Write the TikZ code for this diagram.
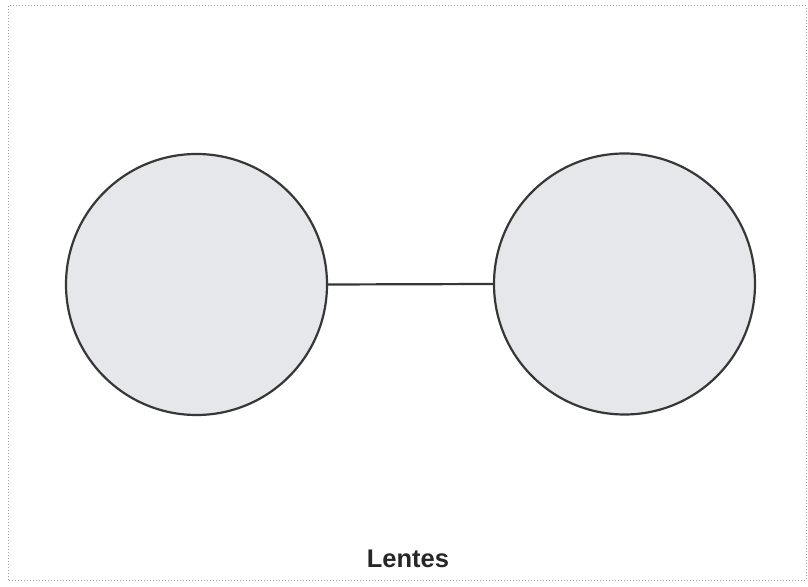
\documentclass[tikz,border=0pt]{standalone}
\usepackage{fontspec}
\setmainfont{Liberation Sans}
\definecolor{lensfill}{RGB}{229,231,234}
\definecolor{lensdraw}{RGB}{55,55,55}
\definecolor{framegray}{RGB}{160,160,160}
\tikzset{
  lens/.style={circle, draw=lensdraw, fill=lensfill, line width=2.2pt, minimum size=261pt, inner sep=0pt},
  link/.style={draw=lensdraw, line width=2.2pt},
  frame/.style={draw=framegray, line width=1pt, dotted},
  caption/.style={font=\fontsize{25.5}{30}\selectfont\bfseries, text=black!85, inner sep=0pt, anchor=base}
}
\begin{document}
\begin{tikzpicture}[x=1pt,y=1pt]
\useasboundingbox (0,0) rectangle (808,586);
\fill[white] (0,0) rectangle (808,586);
\draw[frame] (8,6) rectangle (806,580);
\node[lens] (L) at (196.5,301.5) {};
\node[lens] (R) at (624.5,302) {};
\draw[link] (L.east) -- (R.west);
\node[caption] (cap) at (408,18) {Lentes};
\end{tikzpicture}
\end{document}
